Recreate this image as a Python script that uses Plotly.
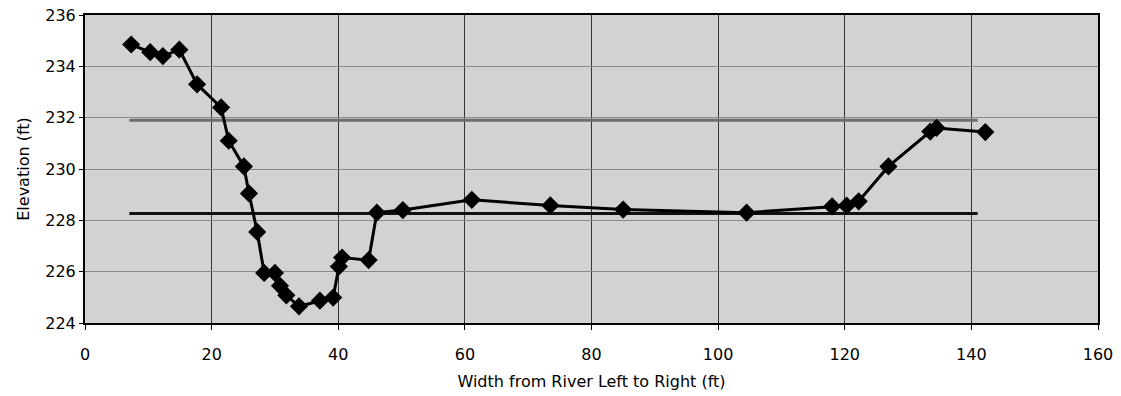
import plotly.graph_objects as go

width_ft = [7.3, 10.3, 12.3, 14.9, 17.7, 21.5, 22.7, 25.1, 25.9, 27.2, 28.3, 30.0, 30.8, 31.8,
            33.8, 37.1, 39.2, 40.1, 40.6, 44.8, 46.1, 50.2, 61.1, 73.5, 85.0, 104.5, 118.0,
            120.3, 122.2, 126.9, 133.5, 134.5, 142.2]
elevation_ft = [234.85, 234.55, 234.4, 234.65, 233.3, 232.4, 231.1, 230.1, 229.05, 227.55, 225.95,
                225.95, 225.45, 225.08, 224.65, 224.87, 224.99, 226.2, 226.55, 226.45, 228.3,
                228.4, 228.8, 228.58, 228.42, 228.3, 228.54, 228.57, 228.74, 230.1, 231.46,
                231.6, 231.44]

upper_x = [7.0, 141.0]
upper_y = [231.9, 231.9]
lower_x = [7.0, 141.0]
lower_y = [228.27, 228.27]

fig = go.Figure()
fig.add_trace(go.Scatter(x=upper_x, y=upper_y, mode="lines",
                         line=dict(color="#6e6e6e", width=3), showlegend=False))
fig.add_trace(go.Scatter(x=lower_x, y=lower_y, mode="lines",
                         line=dict(color="#111111", width=3), showlegend=False))
fig.add_trace(go.Scatter(x=width_ft, y=elevation_ft, mode="lines+markers",
                         line=dict(color="black", width=3),
                         marker=dict(symbol="diamond", size=14, color="black"),
                         showlegend=False))

font = dict(family="DejaVu Sans, Arial, sans-serif", size=16, color="black")
fig.update_layout(
    width=1121, height=396,
    margin=dict(l=85, r=23, t=15, b=73),
    paper_bgcolor="white",
    plot_bgcolor="#d2d2d2",
    font=font,
)
fig.update_xaxes(range=[0, 160], dtick=20, showgrid=True, gridcolor="#333333", gridwidth=1,
                 showline=True, linecolor="black", linewidth=2, mirror=True,
                 ticks="outside", ticklen=5, tickcolor="black", zeroline=False,
                 ticklabelstandoff=11, automargin=False,
                 title=dict(text="Width from River Left to Right (ft)", font=dict(size=16), standoff=13))
fig.update_yaxes(range=[224, 236], dtick=2, showgrid=True, gridcolor="#8a8a8a", gridwidth=1,
                 showline=True, linecolor="black", linewidth=2, mirror=True,
                 ticks="outside", ticklen=4, tickcolor="black", zeroline=False,
                 ticklabelstandoff=0, automargin=False,
                 title=dict(text="Elevation (ft)", font=dict(size=16), standoff=12))

fig.write_html("out.html")
